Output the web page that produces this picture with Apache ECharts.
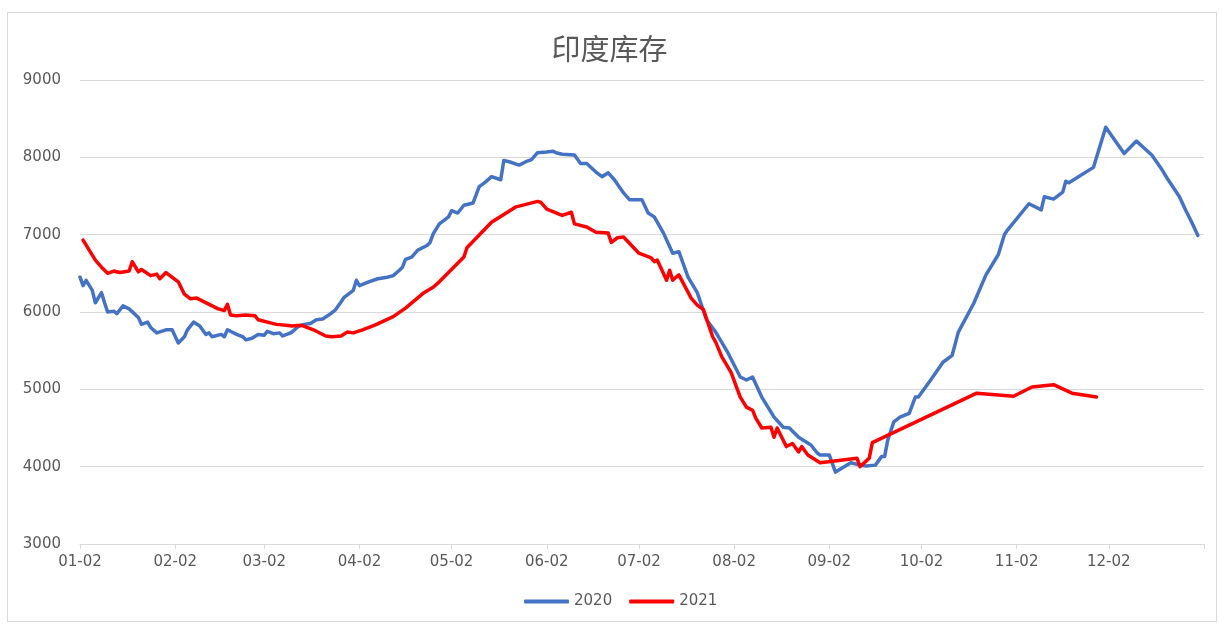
<!DOCTYPE html>
<html>
<head>
<meta charset="utf-8">
<title>印度库存</title>
<script src="https://cdn.jsdelivr.net/npm/echarts@6/dist/echarts.min.js"></script>
<style>
  html, body { margin: 0; padding: 0; background: #fff; }
  #chart { position: absolute; left: 0; top: 0; width: 1219px; height: 625px; }
  #frame { position: absolute; left: 7px; top: 12px; width: 1208px; height: 608px; border: 1px solid #d9d9d9; pointer-events: none; }
</style>
</head>
<body>
<div id="chart"></div>
<div id="frame"></div>
<script>
// 图表数据
var chartTitle = "印度库存";
var seriesNames = ["2020", "2021"];
var yTicks = [3000, 4000, 5000, 6000, 7000, 8000, 9000];

// 2020 (日期, 库存)
var data2020 = [
  ["01-02", 6450], ["01-03", 6340], ["01-04", 6410], ["01-06", 6280], ["01-07", 6120],
  ["01-09", 6250], ["01-10", 6120], ["01-11", 6000], ["01-13", 6010], ["01-14", 5980],
  ["01-16", 6080], ["01-18", 6040], ["01-21", 5930], ["01-22", 5840], ["01-24", 5870],
  ["01-25", 5800], ["01-27", 5730], ["01-30", 5770], ["02-01", 5770], ["02-03", 5600],
  ["02-05", 5680], ["02-06", 5770], ["02-08", 5870], ["02-10", 5820], ["02-12", 5710],
  ["02-13", 5730], ["02-14", 5680], ["02-17", 5710], ["02-18", 5680], ["02-19", 5770],
  ["02-22", 5710], ["02-24", 5680], ["02-25", 5640], ["02-27", 5660], ["02-29", 5710],
  ["03-02", 5700], ["03-03", 5750], ["03-05", 5720], ["03-07", 5730], ["03-08", 5690],
  ["03-10", 5720], ["03-11", 5740], ["03-13", 5810], ["03-15", 5840], ["03-17", 5850],
  ["03-19", 5900], ["03-21", 5910], ["03-23", 5960], ["03-25", 6020], ["03-27", 6130],
  ["03-28", 6190], ["03-31", 6280], ["04-01", 6410], ["04-02", 6340], ["04-05", 6390],
  ["04-08", 6430], ["04-11", 6450], ["04-13", 6470], ["04-15", 6540], ["04-16", 6580],
  ["04-17", 6680], ["04-19", 6710], ["04-21", 6800], ["04-24", 6860], ["04-25", 6900],
  ["04-26", 7010], ["04-28", 7140], ["05-01", 7230], ["05-02", 7310], ["05-04", 7280],
  ["05-06", 7380], ["05-09", 7410], ["05-11", 7620], ["05-13", 7680], ["05-15", 7750],
  ["05-18", 7710], ["05-19", 7960], ["05-21", 7940], ["05-24", 7900], ["05-26", 7940],
  ["05-28", 7970], ["05-30", 8060], ["06-02", 8070], ["06-04", 8080], ["06-05", 8060],
  ["06-07", 8040], ["06-11", 8030], ["06-13", 7920], ["06-15", 7920], ["06-18", 7810],
  ["06-20", 7750], ["06-22", 7800], ["06-24", 7710], ["06-27", 7540], ["06-29", 7450],
  ["07-03", 7450], ["07-05", 7280], ["07-07", 7230], ["07-10", 7020], ["07-13", 6760],
  ["07-15", 6780], ["07-18", 6450], ["07-21", 6250], ["07-24", 5900], ["07-27", 5740],
  ["07-31", 5470], ["08-04", 5160], ["08-06", 5120], ["08-08", 5160], ["08-11", 4900],
  ["08-15", 4640], ["08-18", 4510], ["08-20", 4500], ["08-23", 4380], ["08-27", 4280],
  ["08-29", 4180], ["08-30", 4150], ["09-02", 4150], ["09-04", 3930], ["09-09", 4050],
  ["09-12", 4020], ["09-14", 4010], ["09-17", 4020], ["09-19", 4130], ["09-20", 4130],
  ["09-21", 4340], ["09-23", 4580], ["09-25", 4640], ["09-28", 4690], ["09-30", 4900],
  ["10-01", 4900], ["10-05", 5120], ["10-09", 5350], ["10-12", 5440], ["10-14", 5740],
  ["10-19", 6110], ["10-23", 6480], ["10-27", 6740], ["10-29", 7000], ["10-30", 7060],
  ["11-06", 7400], ["11-10", 7320], ["11-11", 7490], ["11-14", 7460], ["11-17", 7550],
  ["11-18", 7690], ["11-19", 7670], ["11-27", 7870], ["12-01", 8390], ["12-07", 8050],
  ["12-11", 8210], ["12-16", 8030], ["12-19", 7860], ["12-21", 7730], ["12-25", 7490],
  ["12-27", 7320], ["12-29", 7160], ["12-31", 6990]
];

// 2021 (日期, 库存)
var data2021 = [
  ["01-03", 6930], ["01-07", 6670], ["01-09", 6580], ["01-11", 6500], ["01-13", 6530],
  ["01-15", 6510], ["01-18", 6530], ["01-19", 6650], ["01-21", 6520], ["01-22", 6550],
  ["01-25", 6470], ["01-27", 6490], ["01-28", 6430], ["01-30", 6510], ["02-03", 6390],
  ["02-05", 6230], ["02-07", 6170], ["02-09", 6180], ["02-16", 6040], ["02-18", 6020],
  ["02-19", 6100], ["02-20", 5960], ["02-22", 5950], ["02-25", 5960], ["02-28", 5950],
  ["02-29", 5900], ["03-04", 5860], ["03-06", 5840], ["03-09", 5830], ["03-11", 5820],
  ["03-14", 5830], ["03-18", 5770], ["03-22", 5690], ["03-24", 5680], ["03-27", 5690],
  ["03-29", 5740], ["03-31", 5730], ["04-03", 5770], ["04-07", 5830], ["04-13", 5940],
  ["04-17", 6050], ["04-23", 6250], ["04-26", 6320], ["04-28", 6390], ["05-06", 6710],
  ["05-07", 6830], ["05-15", 7160], ["05-23", 7360], ["05-30", 7430], ["05-31", 7420],
  ["06-02", 7330], ["06-07", 7250], ["06-10", 7290], ["06-11", 7140], ["06-15", 7100],
  ["06-18", 7030], ["06-22", 7020], ["06-23", 6900], ["06-25", 6960], ["06-27", 6970],
  ["07-02", 6760], ["07-06", 6700], ["07-07", 6650], ["07-08", 6670], ["07-11", 6410],
  ["07-12", 6540], ["07-13", 6410], ["07-15", 6480], ["07-19", 6180], ["07-21", 6090],
  ["07-23", 6030], ["07-26", 5680], ["07-27", 5610], ["07-29", 5420], ["08-01", 5220],
  ["08-04", 4900], ["08-06", 4770], ["08-08", 4730], ["08-09", 4630], ["08-11", 4500],
  ["08-14", 4510], ["08-15", 4380], ["08-16", 4500], ["08-19", 4260], ["08-21", 4300],
  ["08-23", 4190], ["08-24", 4260], ["08-26", 4150], ["08-30", 4050], ["09-11", 4110],
  ["09-12", 4000], ["09-15", 4110], ["09-16", 4310], ["10-20", 4950], ["11-01", 4910],
  ["11-07", 5030], ["11-14", 5060], ["11-20", 4950], ["11-28", 4900]
];

// 横轴: 01-02 到次年 01-02 的每一天
var categories = [];
(function () {
  var d = new Date(Date.UTC(2020, 0, 2));
  var end = Date.UTC(2021, 0, 2);
  while (d.getTime() <= end) {
    var m = d.getUTCMonth() + 1, day = d.getUTCDate();
    categories.push((m < 10 ? "0" : "") + m + "-" + (day < 10 ? "0" : "") + day);
    d.setUTCDate(day + 1);
  }
})();
var lastIdx = categories.length - 1;

function toPoints(arr) {
  return arr.map(function (p) {
    return [categories.indexOf(p[0]), p[1]];
  });
}

var textColor = "#595959";
var numFont = "'DejaVu Sans', sans-serif";
var cjkFont = "'Noto Sans CJK SC', sans-serif";

var myChart = echarts.init(document.getElementById("chart"), null, { renderer: "canvas" });
var option = {
  backgroundColor: "transparent",
  animation: false,
  title: {
    text: chartTitle,
    left: "center",
    top: 29,
    textStyle: {
      color: textColor,
      fontSize: 29,
      fontWeight: "normal",
      fontFamily: cjkFont
    }
  },
  legend: {
    data: seriesNames,
    bottom: 11,
    left: 519,
    icon: "roundRect",
    itemWidth: 45,
    itemHeight: 4,
    itemGap: 17,
    textStyle: {
      color: textColor,
      fontSize: 15,
      fontFamily: numFont
    }
  },
  grid: {
    left: 80,
    right: 15,
    top: 80,
    bottom: 81,
    containLabel: false
  },
  xAxis: {
    type: "category",
    data: categories,
    boundaryGap: false,
    axisLine: {
      lineStyle: { color: "#d9d9d9", width: 1 }
    },
    axisTick: {
      show: true,
      length: 5,
      interval: function (idx, val) {
        return val.slice(3) === "02";
      },
      lineStyle: { color: "#d9d9d9" }
    },
    axisLabel: {
      interval: function (idx, val) {
        return idx !== lastIdx && val.slice(3) === "02";
      },
      color: textColor,
      fontSize: 15,
      margin: 11,
      fontFamily: numFont
    },
    splitLine: { show: false }
  },
  yAxis: {
    type: "value",
    min: yTicks[0],
    max: yTicks[yTicks.length - 1],
    interval: 1000,
    axisLine: { show: false },
    axisTick: { show: false },
    axisLabel: {
      color: textColor,
      fontSize: 15,
      margin: 19,
      fontFamily: numFont,
      formatter: function (v) {
        return String(v);
      }
    },
    splitLine: {
      lineStyle: { color: "#d9d9d9", width: 1 }
    }
  },
  series: [
    {
      name: seriesNames[0],
      type: "line",
      data: toPoints(data2020),
      showSymbol: false,
      symbol: "none",
      lineStyle: { color: "#4472C4", width: 3.5, join: "round", cap: "round" },
      itemStyle: { color: "#4472C4" },
      z: 2
    },
    {
      name: seriesNames[1],
      type: "line",
      data: toPoints(data2021),
      showSymbol: false,
      symbol: "none",
      lineStyle: { color: "#FF0000", width: 3.5, join: "round", cap: "round" },
      itemStyle: { color: "#FF0000" },
      z: 3
    }
  ]
};
myChart.setOption(option);
</script>
</body>
</html>
